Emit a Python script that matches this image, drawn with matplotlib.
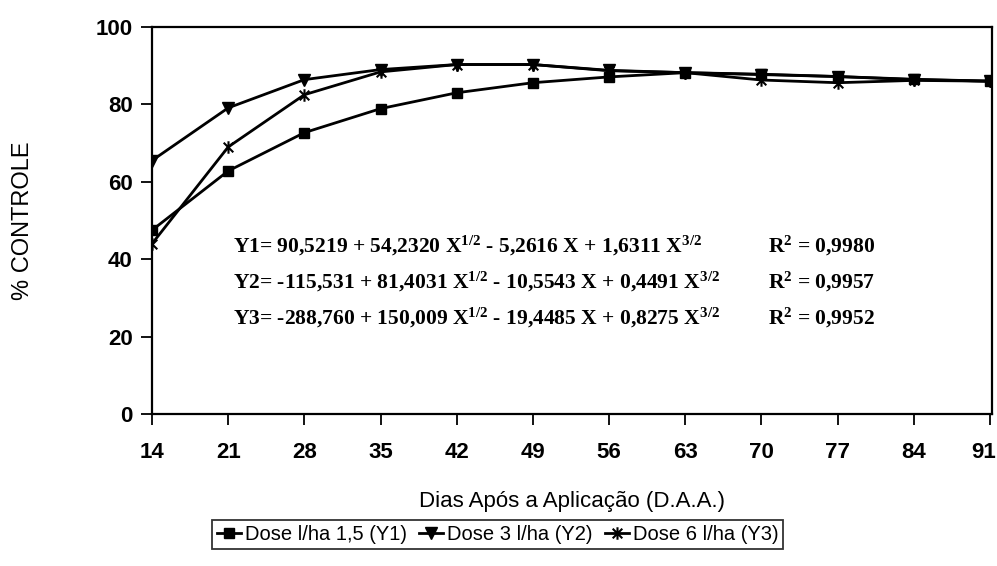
import matplotlib
matplotlib.use("Agg")
import matplotlib.pyplot as plt
import matplotlib.transforms as mtransforms
from matplotlib.path import Path

# dados
dias = [14, 21, 28, 35, 42, 49, 56, 63, 70, 77, 84, 91]
dose_15 = [47.5, 62.8, 72.7, 78.9, 83.0, 85.6, 87.1, 88.2, 87.8, 87.2, 86.5, 86.0]
dose_3 = [65.5, 79.1, 86.4, 89.0, 90.3, 90.3, 88.8, 88.2, 87.7, 87.2, 86.4, 86.0]
dose_6 = [44.0, 69.0, 82.5, 88.4, 90.3, 90.3, 88.7, 88.2, 86.3, 85.6, 86.2, 86.0]

rotulos = ['Dose l/ha 1,5 (Y1)', 'Dose 3 l/ha (Y2)', 'Dose 6 l/ha (Y3)']
equacoes = [
    r'Y1= 90,5219 + 54,2320 X$^{1/2}$ - 5,2616 X + 1,6311 X$^{3/2}$',
    r'Y2= -115,531 + 81,4031 X$^{1/2}$ - 10,5543 X + 0,4491 X$^{3/2}$',
    r'Y3= -288,760 + 150,009 X$^{1/2}$ - 19,4485 X + 0,8275 X$^{3/2}$',
]
r2 = ['0,9980', '0,9957', '0,9952']

plt.rcParams['font.family'] = ['Liberation Sans', 'DejaVu Sans']
plt.rcParams['mathtext.fontset'] = 'custom'
plt.rcParams['mathtext.rm'] = 'Liberation Serif:bold'
plt.rcParams['mathtext.it'] = 'Liberation Serif:bold'
plt.rcParams['mathtext.bf'] = 'Liberation Serif:bold'

# marcador estrela do excel (x com traco vertical)
estrela = Path([(-1, -1), (1, 1), (-1, 1), (1, -1), (0, -1.3), (0, 1.3)],
               [Path.MOVETO, Path.LINETO, Path.MOVETO, Path.LINETO, Path.MOVETO, Path.LINETO])

fig = plt.figure(figsize=(9.97, 5.66), dpi=100)
ax = fig.add_axes([0.1525, 0.2686, 0.8425, 0.6837])

ax.plot(dias, dose_15, color='black', lw=2, marker='s', ms=7, label=rotulos[0])
ax.plot(dias, dose_3, color='black', lw=2, marker='v', ms=8, label=rotulos[1])
ax.plot(dias, dose_6, color='black', lw=2, marker=estrela, ms=9, mew=1.5,
        label=rotulos[2])

ax.set_xlim(14, 91.2)
ax.set_ylim(0, 100)
ax.set_xticks(dias)
ax.set_yticks([0, 20, 40, 60, 80, 100])
ax.tick_params(axis='both', direction='out', length=8, width=1.3, labelsize=16)
ax.tick_params(axis='x', pad=12)
ax.tick_params(axis='y', pad=6)
for lab in ax.get_xticklabels() + ax.get_yticklabels():
    lab.set_fontweight('bold')
# ultimo rotulo um pouco para dentro
ult = ax.get_xticklabels()[-1]
ult.set_transform(ult.get_transform() + mtransforms.ScaledTranslation(-6 / 100, 0, fig.dpi_scale_trans))
for sp in ax.spines.values():
    sp.set_linewidth(1.6)

ax.set_xlabel('Dias Após a Aplicação (D.A.A.)', fontsize=16, labelpad=20)
ax.set_ylabel('% CONTROLE', fontsize=17, labelpad=44)

# equacoes de regressao
ys = [43.4, 34.1, 24.8]
for eq, r, y in zip(equacoes, r2, ys):
    ax.text(21.4, y, eq, family='Liberation Serif', weight='bold', fontsize=15.5,
            va='center', ha='left')
    ax.text(70.6, y, r'R$^2$ = ' + r, family='Liberation Serif', weight='bold',
            fontsize=15.5, va='center', ha='left')

leg = fig.legend(loc='center', bbox_to_anchor=(0.499, 0.055), ncol=3, fontsize=14.5,
                 frameon=True, fancybox=False, edgecolor='black', handlelength=1.2,
                 handletextpad=0.2, columnspacing=0.6, borderpad=0.25,
                 borderaxespad=0)
leg.get_frame().set_linewidth(1.3)

fig.savefig('out.png', dpi=100)
